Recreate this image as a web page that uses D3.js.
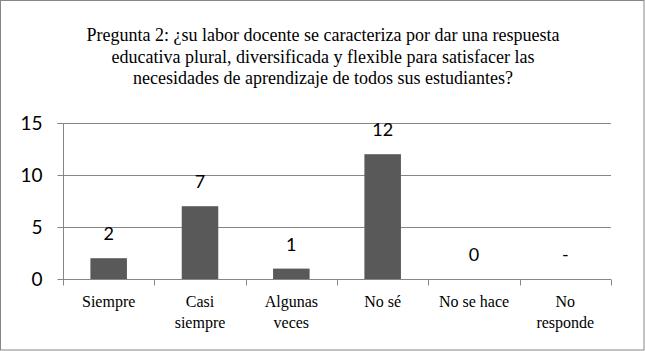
<!DOCTYPE html>
<html><head><meta charset="utf-8">
<script src="https://cdn.jsdelivr.net/npm/d3@7"></script>
<style>
body{margin:0;background:#fff}
.serif{font-family:"Liberation Serif","DejaVu Serif",serif}
.sans{font-family:Lato,"Open Sans",sans-serif}
</style>
</head><body>
<script>
const categories = [["Siempre"],["Casi","siempre"],["Algunas","veces"],["No sé"],["No se hace"],["No","responde"]];
const values = [2, 7, 1, 12, 0, null];
const valueLabels = ["2","7","1","12","0","-"];
const yTicks = [0, 5, 10, 15];
const titleLines = ["Pregunta 2: ¿su labor docente se caracteriza por dar una respuesta",
  "educativa plural, diversificada y flexible para satisfacer las",
  "necesidades de aprendizaje de todos sus estudiantes?"];

const W = 645, H = 351;
const svg = d3.select("body").append("svg").attr("width", W).attr("height", H);
svg.append("rect").attr("x",0.5).attr("y",0.5).attr("width",W-1.5).attr("height",H-1.5)
  .attr("fill","#fff").attr("stroke","#868686").attr("stroke-width",1);

const pLeft = 63, pRight = 611, pTop = 123, pBottom = 279;
const x = d3.scaleBand().domain(d3.range(categories.length)).range([pLeft, pRight]).paddingInner(0.6).paddingOuter(0.3);
const xb = d3.scaleBand().domain(d3.range(categories.length)).range([pLeft, pRight]);
const y = d3.scaleLinear().domain([0, 15]).range([pBottom, pTop]);

svg.append("g").selectAll("text").data(titleLines).join("text")
  .attr("class","serif")
  .attr("x", 323).attr("y", (d,i)=>41 + i*21.5).attr("text-anchor","middle")
  .attr("font-size",18).attr("fill","#000").text(d=>d);

// gridlines
svg.append("g").selectAll("line").data(yTicks.filter(t=>t>0)).join("line")
  .attr("x1", pLeft).attr("x2", pRight).attr("y1", d=>Math.round(y(d))+0.5).attr("y2", d=>Math.round(y(d))+0.5)
  .attr("stroke","#868686").attr("stroke-width",1);

// y axis
const yAxis = svg.append("g").attr("transform",`translate(${pLeft+0.5},0)`)
  .call(d3.axisLeft(y).tickValues(yTicks).tickSize(6).tickPadding(15).tickFormat(d3.format("d")));
yAxis.attr("font-family",null);
yAxis.select(".domain").attr("stroke","#868686").attr("d",`M-6,${y(15)+0.5}H0V${y(0)+0.5}`);
yAxis.selectAll(".tick line").attr("stroke","#868686");
yAxis.selectAll("text").attr("class","sans").attr("font-size",19).attr("fill","#000");

// x axis
const xa = svg.append("g").attr("transform",`translate(0,${pBottom+0.5})`);
xa.append("line").attr("x1",pLeft).attr("x2",pRight).attr("stroke","#868686");
xa.selectAll("line.t").data(d3.range(categories.length+1)).join("line").attr("class","t")
  .attr("x1", i=> Math.round(i<categories.length ? xb(i) : pRight)+0.5)
  .attr("x2", i=> Math.round(i<categories.length ? xb(i) : pRight)+0.5)
  .attr("y1",0).attr("y2",6).attr("stroke","#868686");
const cl = xa.selectAll("text.c").data(categories).join("text").attr("class","c serif")
  .attr("text-anchor","middle")
  .attr("font-size",16).attr("fill","#000");
cl.each(function(d,i){
  d3.select(this).selectAll("tspan").data(d).join("tspan")
    .attr("x", xb(i)+xb.bandwidth()/2).attr("y",(t,j)=>27 + j*21).text(t=>t);
});

// bars
svg.append("g").selectAll("rect").data(values.map((v,i)=>({v,i})).filter(d=>d.v!=null && d.v>0)).join("rect")
  .attr("x", d=>x(d.i)).attr("width", x.bandwidth())
  .attr("y", d=>y(d.v)).attr("height", d=>y(0)-y(d.v)).attr("fill","#595959");

// value labels
svg.append("g").selectAll("text").data(valueLabels).join("text")
  .attr("class","sans")
  .attr("x",(d,i)=>xb(i)+xb.bandwidth()/2)
  .attr("y",(d,i)=> y(values[i]==null?0:values[i]) - 18)
  .attr("text-anchor","middle").attr("font-size",18).attr("fill","#000")
  .text(d=>d);
</script>
</body></html>
